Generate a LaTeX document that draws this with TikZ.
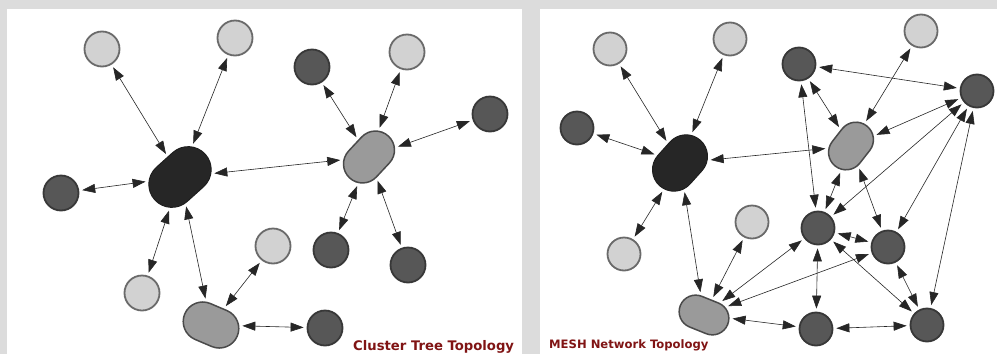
\documentclass[tikz,border=0pt]{standalone}
\usepackage{fontspec}
\usepackage{tikz}
\usetikzlibrary{arrows.meta,shapes.misc}
\newfontfamily\capfont{DejaVu Sans}

\definecolor{bgray}{HTML}{DCDCDC}
\definecolor{lightfill}{HTML}{D2D2D2}
\definecolor{lightline}{HTML}{6A6A6A}
\definecolor{darkfill}{HTML}{575757}
\definecolor{darkline}{HTML}{383838}
\definecolor{coordfill}{HTML}{262626}
\definecolor{routfill}{HTML}{9A9A9A}
\definecolor{routline}{HTML}{4A4A4A}
\definecolor{capred}{RGB}{128,20,20}

\begin{document}
\begin{tikzpicture}[
		x=1pt, y=-1pt,
		>={Triangle[length=13pt,width=9pt]},
		light/.style={circle, draw=lightline, fill=lightfill, line width=1.8pt, minimum size=#1, inner sep=0pt},
		light/.default=35pt,
		dark/.style={circle, draw=darkline, fill=darkfill, line width=1.8pt, minimum size=#1, inner sep=0pt},
		dark/.default=35pt,
		coord/.style={rounded rectangle, draw=coordfill!80!black, fill=coordfill, line width=1pt, inner sep=0pt},
		rout/.style={rounded rectangle, draw=routline, fill=routfill, line width=1.5pt, inner sep=0pt},
		link/.style={<->, black!85, line width=0.6pt, shorten <=3pt, shorten >=3pt},
		caption/.style={anchor=base west, text=capred, font=\capfont\bfseries\fontsize{#1}{14}\selectfont, inner sep=0pt}
		]
		
		\useasboundingbox (0,0) rectangle (997,354);
		\fill[bgray] (0,0) rectangle (997,354);
		\fill[white] (7,9) rectangle (522,354);
		\fill[white] (540,9) rectangle (997,354);
		
		% Cluster tree
		\node[coord, rotate=42, minimum width=68pt, minimum height=46pt] (tc) at (180,177) {};
		\node[rout, rotate=47, minimum width=57pt, minimum height=38pt] (tr1) at (369,157) {};
		\node[rout, rotate=-23, minimum width=57pt, minimum height=39pt] (tr2) at (211,325) {};
		
		\node[light] (tl1) at (102,49) {};
		\node[light] (tl2) at (235,38) {};
		\node[light] (tl3) at (407,52) {};
		\node[light] (tl4) at (142,293) {};
		\node[light] (tl5) at (273,246) {};
		
		\node[dark] (td1) at (312,67) {};
		\node[dark] (td2) at (490,114) {};
		\node[dark] (td3) at (61,193) {};
		\node[dark] (td4) at (325,328) {};
		\node[dark] (td5) at (331,250) {};
		\node[dark] (td6) at (408,265) {};
		
		\foreach \a/\b in {tc/tl1, tc/tl2, tc/td3, tc/tl4, tc/tr2, tc/tr1,
			tr1/td1, tr1/tl3, tr1/td2, tr1/td5, tr1/td6, tr2/tl5, tr2/td4}
		\draw[link] (\a) -- (\b);
		
		\node[caption=13.2] (tcap) at (353,350) {Cluster Tree Topology};
		
		% Mesh
		\node[coord, rotate=48, minimum width=61pt, minimum height=43pt] (mc) at (680,163) {};
		\node[rout, rotate=52, minimum width=51pt, minimum height=35pt] (mr1) at (851,146) {};
		\node[rout, rotate=-22, minimum width=51pt, minimum height=33pt] (mr2) at (704,315) {};
		
		\node[light=33pt] (ml1) at (610,49) {};
		\node[light=33pt] (ml2) at (730,39) {};
		\node[light=33pt] (ml3) at (624,254) {};
		\node[light=33pt] (ml4) at (752,222) {};
		\node[light=33pt] (ml5) at (921,31) {};
		
		\node[dark=33pt] (md1) at (577,128) {};
		\node[dark=33pt] (md2) at (799,64) {};
		\node[dark=33pt] (md3) at (977,91) {};
		\node[dark=33pt] (md4) at (818,228) {};
		\node[dark=33pt] (md5) at (888,247) {};
		\node[dark=33pt] (md6) at (816,329) {};
		\node[dark=33pt] (md7) at (927,325) {};
		
		\foreach \a/\b in {mc/ml1, mc/ml2, mc/md1, mc/ml3, mc/mr2, mc/mr1,
			mr2/ml4, mr2/md6, md6/md7, mr1/ml5, mr1/md2, md2/md3, md2/md4,
			mr1/md3, mr1/md4, mr1/md5, md3/md4, md3/md5, md3/md7,
			md4/md5, md4/mr2, md5/mr2, md4/md6, md4/md7, md5/md7}
		\draw[link] (\a) -- (\b);
		
		\node[caption=11.6] (mcap) at (549,348) {MESH Network Topology};
		
	\end{tikzpicture}
\end{document}
